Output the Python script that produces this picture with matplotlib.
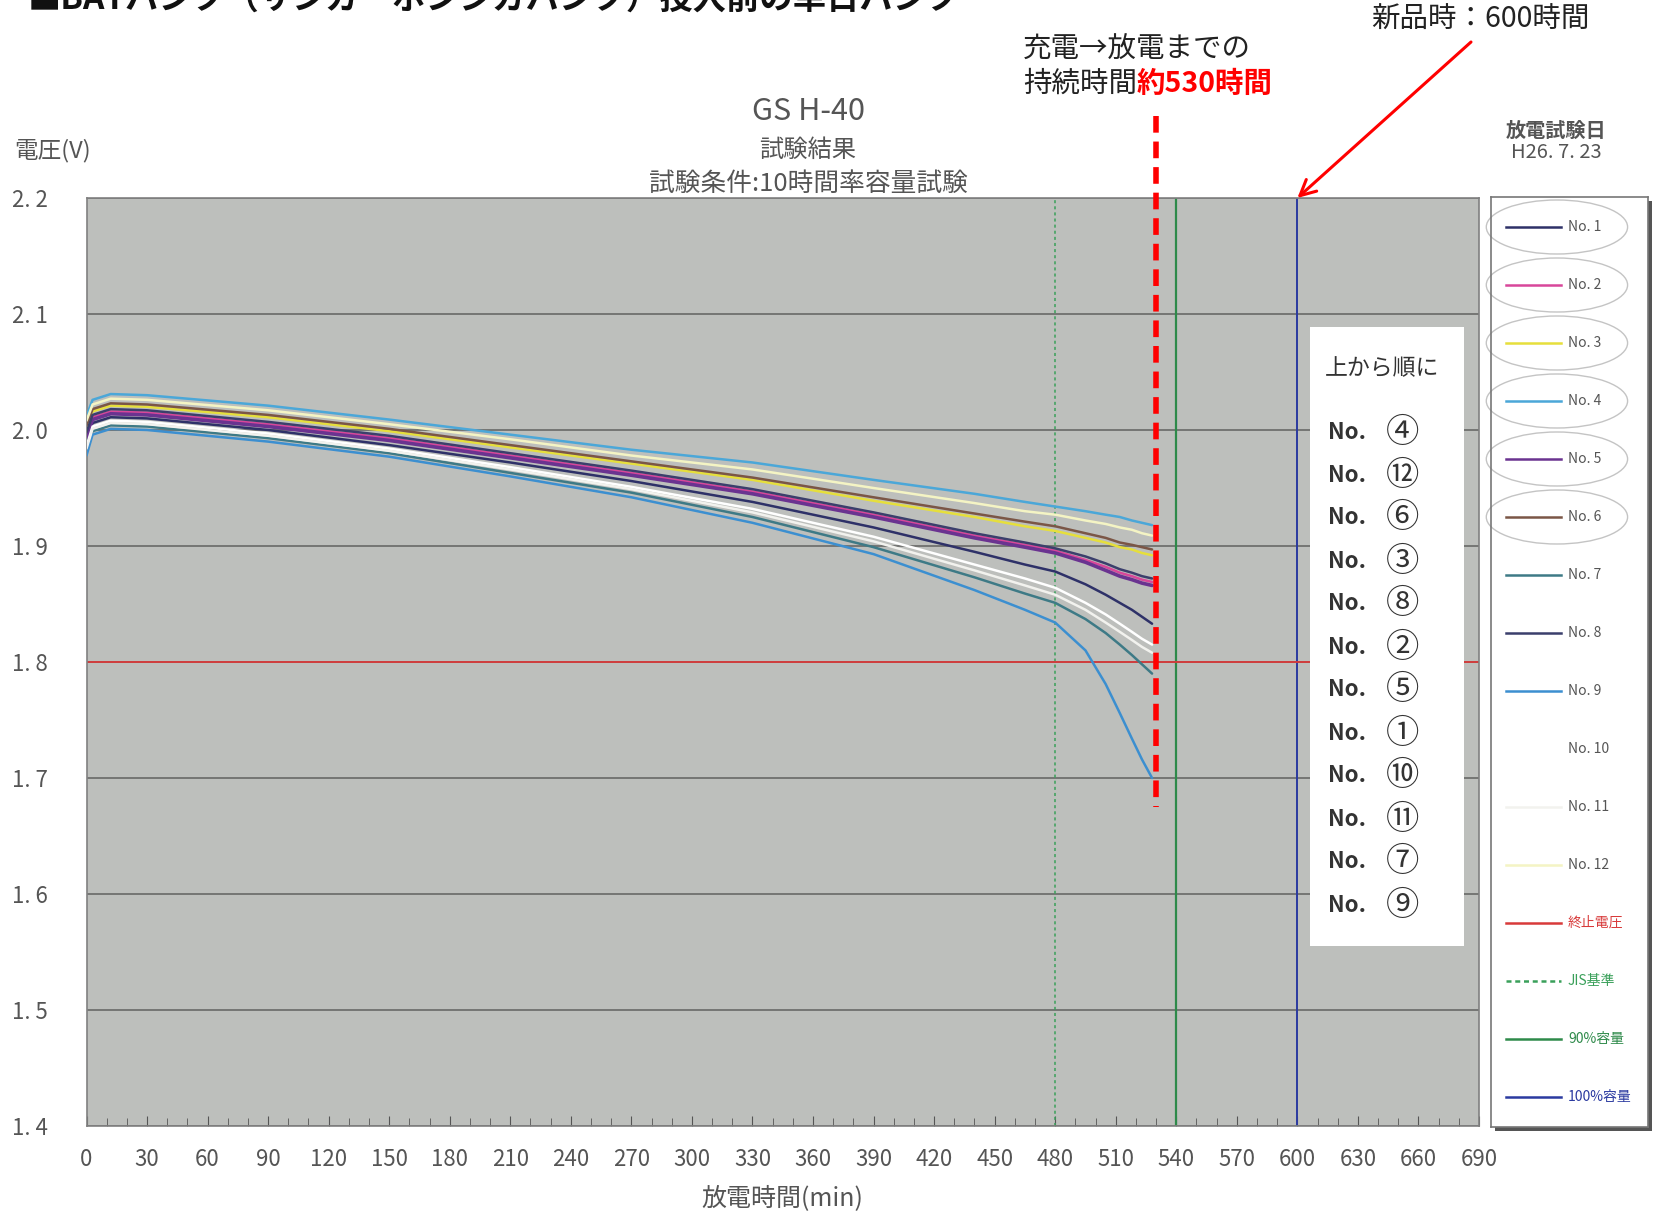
import numpy as np
import matplotlib
matplotlib.use('Agg')
import matplotlib.pyplot as plt
from matplotlib.patches import Rectangle, Ellipse

plt.rcParams['font.family'] = ['Noto Sans CJK JP', 'DejaVu Sans']

# discharge time (min) and cell voltage (V)
minutes = [0, 3, 12, 30, 90, 150, 210, 270, 330, 390, 440, 465, 480, 495, 505, 512, 518, 523, 528]

no1 = [1.990, 2.006, 2.011, 2.010, 2.000, 1.987, 1.972, 1.956, 1.938, 1.916,
       1.895, 1.884, 1.878, 1.867, 1.858, 1.851, 1.845, 1.839, 1.833]
no2 = [1.996, 2.011, 2.016, 2.015, 2.005, 1.993, 1.978, 1.963, 1.947, 1.927,
       1.909, 1.901, 1.896, 1.888, 1.882, 1.877, 1.874, 1.871, 1.869]
no3 = [2.002, 2.016, 2.021, 2.020, 2.011, 1.999, 1.985, 1.971, 1.957, 1.939,
       1.925, 1.917, 1.913, 1.907, 1.903, 1.899, 1.897, 1.894, 1.892]
no4 = [2.012, 2.026, 2.031, 2.030, 2.021, 2.009, 1.996, 1.983, 1.972, 1.957,
       1.945, 1.938, 1.934, 1.930, 1.927, 1.925, 1.922, 1.920, 1.918]
no5 = [1.994, 2.009, 2.014, 2.013, 2.003, 1.991, 1.976, 1.961, 1.945, 1.925,
       1.907, 1.899, 1.894, 1.886, 1.879, 1.874, 1.871, 1.868, 1.866]
no6 = [2.004, 2.018, 2.023, 2.022, 2.013, 2.001, 1.987, 1.973, 1.959, 1.942,
       1.928, 1.921, 1.917, 1.911, 1.907, 1.903, 1.901, 1.899, 1.897]
no7 = [1.982, 1.999, 2.004, 2.003, 1.993, 1.980, 1.963, 1.946, 1.925, 1.899,
       1.873, 1.859, 1.851, 1.837, 1.825, 1.815, 1.806, 1.798, 1.790]
no8 = [1.998, 2.013, 2.018, 2.017, 2.007, 1.995, 1.980, 1.965, 1.949, 1.929,
       1.911, 1.903, 1.898, 1.891, 1.885, 1.880, 1.877, 1.874, 1.872]
no9 = [1.978, 1.996, 2.001, 2.000, 1.990, 1.977, 1.960, 1.942, 1.920, 1.893,
       1.862, 1.845, 1.834, 1.810, 1.781, 1.756, 1.734, 1.716, 1.700]
no10 = [1.986, 2.003, 2.008, 2.007, 1.997, 1.984, 1.968, 1.951, 1.932, 1.908,
        1.884, 1.872, 1.864, 1.851, 1.841, 1.833, 1.826, 1.820, 1.815]
no11 = [1.984, 2.001, 2.006, 2.005, 1.995, 1.982, 1.966, 1.949, 1.929, 1.904,
        1.879, 1.866, 1.858, 1.845, 1.834, 1.826, 1.819, 1.813, 1.808]
no12 = [2.008, 2.022, 2.027, 2.026, 2.017, 2.005, 1.992, 1.978, 1.966, 1.950,
        1.937, 1.930, 1.927, 1.922, 1.919, 1.916, 1.914, 1.911, 1.909]

series_names = ['No. 1', 'No. 2', 'No. 3', 'No. 4', 'No. 5', 'No. 6',
                'No. 7', 'No. 8', 'No. 9', 'No. 10', 'No. 11', 'No. 12']
series_values = [no1, no2, no3, no4, no5, no6, no7, no8, no9, no10, no11, no12]
series_colors = ['#2e3168', '#d8479a', '#e6df3c', '#4ba7d8', '#6a3390', '#7b5646',
                 '#3e7a86', '#3b3f6c', '#3c8fd0', '#ffffff', '#f2f2ee', '#f4f4c4']

# reference lines
cutoff_voltage = 1.8
jis_minutes = 480
cap90_minutes = 540
cap100_minutes = 600
actual_minutes = 530

order_top_down = ['④', '⑫', '⑥', '③', '⑧', '②', '⑤', '①', '⑩', '⑪', '⑦', '⑨']

y_ticks = [1.4, 1.5, 1.6, 1.7, 1.8, 1.9, 2.0, 2.1, 2.2]
x_ticks = list(range(0, 691, 30))

W, H = 1654, 1213
fig = plt.figure(figsize=(W / 100, H / 100), dpi=100)

def fx(px):
    return px / W

def fy(py):
    return 1 - py / H

ax = fig.add_axes([fx(86.5), fy(1126), fx(1479 - 86.5), (1126 - 198) / H])
ax.set_facecolor('#bdbfbc')
ax.set_xlim(0, 690)
ax.set_ylim(1.4, 2.2)

for v in y_ticks:
    ax.axhline(v, color='#6f706e', lw=1.3, zorder=1)

ax.axvline(jis_minutes, color='#3aa05a', lw=1.1, ls=(0, (2, 2)), zorder=2)
ax.axvline(cap90_minutes, color='#2e8a4a', lw=1.6, zorder=2)
ax.axvline(cap100_minutes, color='#2b3aa0', lw=1.4, zorder=2)
ax.axhline(cutoff_voltage, color='#d83a3a', lw=1.3, zorder=2)

for vals, col in zip(series_values, series_colors):
    lw = 2.6 if col == '#6a3390' else 1.8
    ax.plot(minutes, vals, color=col, lw=lw, solid_capstyle='round', solid_joinstyle='round', zorder=3)

ax.set_yticks(y_ticks)
ax.set_yticklabels([f'{v:.1f}'.replace('.', '. ') for v in y_ticks], fontsize=16, color='#555555')
ax.set_xticks(x_ticks)
ax.set_xticklabels([str(v) for v in x_ticks], fontsize=16, color='#555555')
ax.set_xticks(range(0, 691, 10), minor=True)
ax.tick_params(axis='y', length=0, pad=28)
ax.tick_params(axis='x', which='both', direction='in', length=6, color='#555555', pad=16)
ax.tick_params(axis='x', which='major', length=7)
for s in ax.spines.values():
    s.set_color('#808080')
    s.set_linewidth(1.2)
ax.set_xlabel('放電時間(min)', fontsize=18, color='#555555', labelpad=10)

# order box inside the plot
ax.add_artist(Rectangle((fx(1310), fy(946)), fx(1464 - 1310), (946 - 327) / H,
                        transform=fig.transFigure, facecolor='white', edgecolor='none', zorder=4))
fig.text(fx(1382), fy(369), '上から順に', fontsize=16.5, color='#333333', ha='center', va='center')
for i, num in enumerate(order_top_down):
    yy = fy(432 + 43 * i)
    fig.text(fx(1328), yy, 'No.', fontsize=16, color='#333333', ha='left', va='center', fontweight='bold')
    fig.text(fx(1403), yy, num, fontsize=24, color='#333333', ha='center', va='center')

# chart titles
fig.text(fx(808), fy(111), 'GS H-40', fontsize=22, color='#555555', ha='center', va='center')
fig.text(fx(808), fy(150), '試験結果', fontsize=17.5, color='#555555', ha='center', va='center')
fig.text(fx(808), fy(184), '試験条件:10時間率容量試験', fontsize=18.5, color='#555555', ha='center', va='center')
fig.text(fx(53), fy(151), '電圧(V)', fontsize=17, color='#555555', ha='center', va='center')

# legend panel on the right
fig.add_artist(Rectangle((fx(1495), fy(1131)), fx(157), 930 / H, transform=fig.transFigure,
                         facecolor='#555555', edgecolor='none', zorder=-1))
lax = fig.add_axes([fx(1491), fy(1127), fx(157), 930 / H], zorder=2)
lax.set_xlim(0, 1)
lax.set_ylim(1127, 197)
lax.set_xticks([])
lax.set_yticks([])
for s in lax.spines.values():
    s.set_color('#777777')
    s.set_linewidth(1.2)

legend_names = series_names + ['終止電圧', 'JIS基準', '90%容量', '100%容量']
legend_line_colors = series_colors + ['#d83a3a', '#3aa05a', '#2e8a4a', '#2b3aa0']
legend_text_colors = ['#555555'] * 12 + ['#d83a3a', '#3aa05a', '#2e8a4a', '#2b3aa0']
for i, (name, lc, tc) in enumerate(zip(legend_names, legend_line_colors, legend_text_colors)):
    yy = 227 + 58 * i
    ls = (0, (2, 1.5)) if name == 'JIS基準' else '-'
    lax.plot([0.096, 0.446], [yy, yy], color=lc, lw=1.8, ls=ls)
    lax.text(0.49, yy, name, fontsize=10, color=tc, va='center', ha='left')
    if i < 6:
        lax.add_patch(Ellipse((0.42, yy), 0.9, 54, fill=False,
                              edgecolor='#c4c4c4', lw=1, clip_on=False))

fig.text(fx(1556), fy(130), '放電試験日', fontsize=14.5, color='#555555', ha='center', va='center',
         fontweight='bold')
fig.text(fx(1556), fy(153), 'H26. 7. 23', fontsize=14.5, color='#555555', ha='center', va='center')

# annotations added on top of the scan
ax.plot([actual_minutes, actual_minutes], [1.088, 0.344], transform=ax.get_xaxis_transform(),
        color='#ff0000', lw=4, ls=(0, (3, 1.6)), clip_on=False, zorder=6)
fig.text(fx(1023), fy(50), '充電→放電までの', fontsize=20.5, color='#222222', ha='left', va='center')
t1 = fig.text(fx(1023), fy(84), '持続時間', fontsize=20.5, color='#222222', ha='left', va='center')
ax.annotate('約530時間', xy=(1, 0.5), xycoords=t1, fontsize=20.5, color='#ff0000',
            fontweight='bold', ha='left', va='center', annotation_clip=False)
fig.text(fx(1371), fy(20), '新品時：600時間', fontsize=20.5, color='#222222', ha='left', va='center')
ax.annotate('', xy=(cap100_minutes, 2.2), xycoords='data',
            xytext=(fx(1471), fy(42)), textcoords='figure fraction',
            arrowprops=dict(arrowstyle='->', color='#ff0000', lw=2.2, mutation_scale=28,
                            shrinkA=0, shrinkB=0),
            annotation_clip=False)

# heading of the page, cut off by the top edge as in the scan
fig.text(fx(28), fy(10), '■BATバンク（サンガーボンシガバンク）投入前の単日バンク', fontsize=24,
         fontweight='bold', color='#111111', ha='left', va='baseline')

fig.savefig('out.png', dpi=100, facecolor='white')
